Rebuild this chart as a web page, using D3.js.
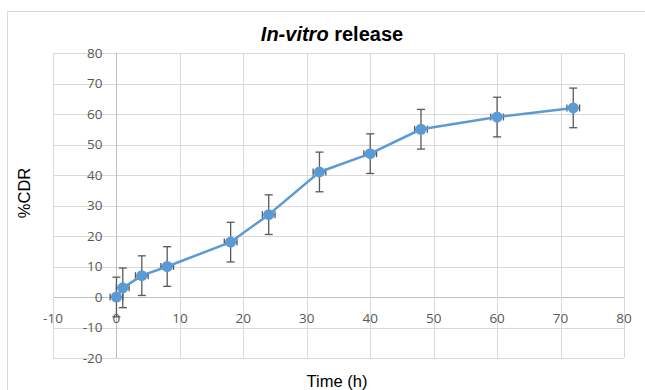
<!DOCTYPE html>
<html>
<head>
<meta charset="utf-8">
<script src="https://cdn.jsdelivr.net/npm/d3@7"></script>
<style>
  body { margin: 0; background: #fff; }
  svg { display: block; }
</style>
</head>
<body>
<svg id="chart" width="645" height="390"></svg>
<script>
// data
const timeH = [0, 1, 4, 8, 18, 24, 32, 40, 48, 60, 72];
const cdr = [0, 3, 7, 10, 18, 27, 41, 47, 55, 59, 62];
const yErr = [6.5, 6.5, 6.5, 6.5, 6.5, 6.5, 6.5, 6.5, 6.5, 6.5, 6.5];
const xErr = [1, 1, 1, 1, 1, 1, 1, 1, 1, 1, 1];
const xTicks = [-10, 0, 10, 20, 30, 40, 50, 60, 70, 80];
const yTicks = [-20, -10, 0, 10, 20, 30, 40, 50, 60, 70, 80];

const data = timeH.map((t, i) => ({ x: t, y: cdr[i], ey: yErr[i], ex: xErr[i] }));

const svg = d3.select("#chart");
const margin = { top: 53, right: 21, bottom: 32, left: 53 };
const width = 645, height = 390;

const x = d3.scaleLinear().domain([-10, 80]).range([margin.left, width - margin.right]);
const y = d3.scaleLinear().domain([-20, 80]).range([height - margin.bottom, margin.top]);

const lineBlue = "#5b9bd5";
const errColor = "#595959";
const gridColor = "#d9d9d9";
const tickColor = "#595959";

// chart border
svg.append("rect")
    .attr("x", 7.5).attr("y", 11.5)
    .attr("width", 660).attr("height", 400)
    .attr("fill", "none")
    .attr("stroke", gridColor);

// gridlines
svg.append("g").selectAll("line")
    .data(yTicks)
    .enter().append("line")
    .attr("x1", x(-10)).attr("x2", x(80))
    .attr("y1", d => Math.round(y(d)) + 0.5).attr("y2", d => Math.round(y(d)) + 0.5)
    .attr("stroke", d => d === 0 ? "#bfbfbf" : gridColor)
    .attr("stroke-width", 1);

svg.append("g").selectAll("line")
    .data(xTicks)
    .enter().append("line")
    .attr("y1", y(-20)).attr("y2", y(80))
    .attr("x1", d => Math.round(x(d)) + 0.5).attr("x2", d => Math.round(x(d)) + 0.5)
    .attr("stroke", d => d === 0 ? "#bfbfbf" : gridColor)
    .attr("stroke-width", 1);

// tick labels (axes cross at 0)
svg.append("g").selectAll("text")
    .data(yTicks)
    .enter().append("text")
    .attr("x", x(0) - 14)
    .attr("y", d => y(d))
    .attr("dy", "0.35em")
    .attr("text-anchor", "end")
    .attr("font-family", "Open Sans, sans-serif")
    .attr("font-size", 13.5)
    .attr("fill", tickColor)
    .text(d => d);

svg.append("g").selectAll("text")
    .data(xTicks)
    .enter().append("text")
    .attr("x", d => x(d))
    .attr("y", y(0) + 21)
    .attr("dy", "0.35em")
    .attr("text-anchor", "middle")
    .attr("font-family", "Open Sans, sans-serif")
    .attr("font-size", 13.5)
    .attr("fill", tickColor)
    .text(d => d);

// error bars
const eb = svg.append("g").attr("stroke", errColor).attr("stroke-width", 1.3).attr("fill", "none");
data.forEach(d => {
    const cx = x(d.x), cy = y(d.y);
    const top = y(d.y + d.ey), bot = y(d.y - d.ey);
    eb.append("line").attr("x1", cx).attr("x2", cx).attr("y1", top).attr("y2", bot);
    eb.append("line").attr("x1", cx - 4).attr("x2", cx + 4).attr("y1", top).attr("y2", top);
    eb.append("line").attr("x1", cx - 4).attr("x2", cx + 4).attr("y1", bot).attr("y2", bot);
    const l = x(d.x - d.ex), r = x(d.x + d.ex);
    eb.append("line").attr("x1", l).attr("x2", r).attr("y1", cy).attr("y2", cy);
    eb.append("line").attr("x1", l).attr("x2", l).attr("y1", cy - 3.5).attr("y2", cy + 3.5);
    eb.append("line").attr("x1", r).attr("x2", r).attr("y1", cy - 3.5).attr("y2", cy + 3.5);
});

// line
const line = d3.line().x(d => x(d.x)).y(d => y(d.y));
svg.append("path")
    .datum(data)
    .attr("d", line)
    .attr("fill", "none")
    .attr("stroke", lineBlue)
    .attr("stroke-width", 2.5)
    .attr("stroke-linejoin", "round");

svg.append("g").selectAll("circle")
    .data(data)
    .enter().append("circle")
    .attr("cx", d => x(d.x))
    .attr("cy", d => y(d.y))
    .attr("r", 5.5)
    .attr("fill", lineBlue);

// title
const title = svg.append("text")
    .attr("x", 332)
    .attr("y", 41)
    .attr("text-anchor", "middle")
    .attr("font-family", "Liberation Sans, Arial, sans-serif")
    .attr("font-size", 20)
    .attr("font-weight", "bold")
    .attr("fill", "#000");
title.append("tspan").attr("font-style", "italic").text("In-vitro");
title.append("tspan").text(" release");

// axis titles
svg.append("text")
    .attr("x", 337)
    .attr("y", 387)
    .attr("text-anchor", "middle")
    .attr("font-family", "Liberation Sans, Arial, sans-serif")
    .attr("font-size", 16.5)
    .attr("fill", "#000")
    .text("Time (h)");

svg.append("text")
    .attr("transform", "translate(30,193) rotate(-90)")
    .attr("text-anchor", "middle")
    .attr("font-family", "Liberation Sans, Arial, sans-serif")
    .attr("font-size", 16.5)
    .attr("fill", "#000")
    .text("%CDR");
</script>
</body>
</html>
